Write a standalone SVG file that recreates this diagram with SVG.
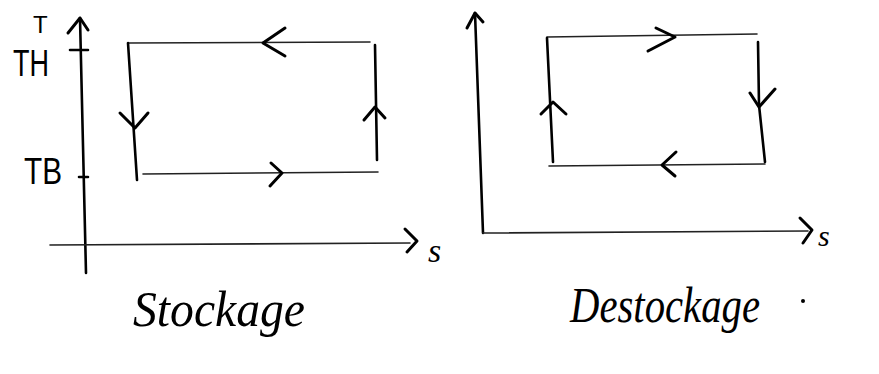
<svg xmlns="http://www.w3.org/2000/svg" width="879" height="374" viewBox="0 0 879 374">
<style>
.ln{fill:none;stroke:#000;stroke-width:2.6;stroke-linecap:round;stroke-linejoin:round}
.thin{fill:none;stroke:#222;stroke-width:1.6;stroke-linecap:round}
.ar{fill:none;stroke:#000;stroke-width:3;stroke-linecap:round;stroke-linejoin:round}
.lbl{font-family:"Liberation Serif",serif;font-style:italic;fill:#000}
.ax{font-family:"Liberation Sans",sans-serif;fill:#000}
</style>
<rect width="879" height="374" fill="#fff"/>
<g id="connectors">
<g id="axes-left">
<path class="ln" d="M80,18 L86,273"/>
<polyline class="ar" points="68,33 80,18 88,30"/>
<path class="ln" d="M70,50 L88,50 M79,177 L88,177"/>
<path class="thin" d="M50,245 L410,243" stroke-width="2.2"/>
<polyline class="ar" points="405,229 417,241 407,252"/>
</g>
<g id="axes-right">
<path class="ln" d="M475,13 L483,233"/>
<polyline class="ar" points="467,28 475,13 483,22"/>
<path class="thin" d="M483,233 L808,231" stroke-width="2.2"/>
<polyline class="ar" points="800,218 812,230 803,243"/>
</g>
</g>
<g id="cycle-stockage">
<path class="thin" d="M128,43 L370,42"/>
<path class="ln" d="M128,43 L137,180" stroke-width="3"/>
<path class="thin" d="M143,174 L378,172" stroke-width="2.2"/>
<path class="ln" d="M375,45 L377,160" stroke-width="3"/>
<polyline class="ar" points="285,28 263,43 285,56"/>
<polyline class="ar" points="120,113 135,128 148,113"/>
<polyline class="ar" points="271,163 282,173 270,186"/>
<polyline class="ar" points="364,120 375,107 385,118"/>
</g>
<g id="cycle-destockage">
<path class="thin" d="M547,37 L757,34"/>
<path class="ln" d="M547,38 L553,162" stroke-width="3"/>
<path class="thin" d="M549,166 L765,164" stroke-width="2.2"/>
<path class="ln" d="M758,42 L759,105 L765,162" stroke-width="3"/>
<polyline class="ar" points="656,28 675,37 648,51"/>
<polyline class="ar" points="750,93 759,107 775,89"/>
<polyline class="ar" points="676,152 662,165 675,176"/>
<polyline class="ar" points="541,114 553,102 566,114"/>
</g>
<g id="labels">
<text class="ax" x="33" y="33" font-size="24">T</text>
<text class="ax" x="13" y="76" font-size="36" textLength="36" lengthAdjust="spacingAndGlyphs">TH</text>
<text class="ax" x="24" y="184" font-size="36" textLength="38" lengthAdjust="spacingAndGlyphs">TB</text>
<text class="lbl" x="428" y="262" font-size="34">s</text>
<text class="lbl" x="818" y="246" font-size="30">s</text>
<text class="lbl" x="133" y="326" font-size="50" textLength="172" lengthAdjust="spacingAndGlyphs">Stockage</text>
<text class="lbl" x="570" y="322" font-size="50" textLength="190" lengthAdjust="spacingAndGlyphs">Destockage</text>
<circle cx="803" cy="301" r="2" fill="#000"/>
</g>
</svg>
